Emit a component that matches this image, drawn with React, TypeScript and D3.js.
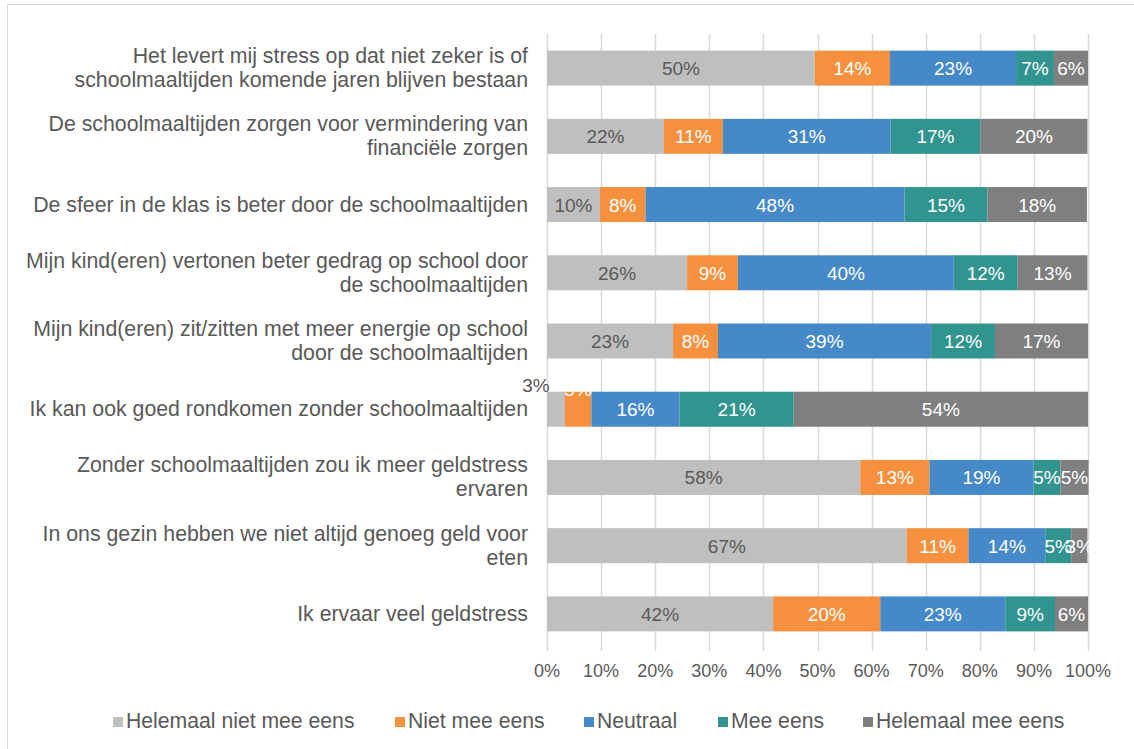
import React from "react";
import * as d3 from "d3";

const categories: string[][] = [
  ["Het levert mij stress op dat niet zeker is of", "schoolmaaltijden komende jaren blijven bestaan"],
  ["De schoolmaaltijden zorgen voor vermindering van", "financiële zorgen"],
  ["De sfeer in de klas is beter door de schoolmaaltijden"],
  ["Mijn kind(eren) vertonen beter gedrag op school door", "de schoolmaaltijden"],
  ["Mijn kind(eren) zit/zitten met meer energie op school", "door de schoolmaaltijden"],
  ["Ik kan ook goed rondkomen zonder schoolmaaltijden"],
  ["Zonder schoolmaaltijden zou ik meer geldstress", "ervaren"],
  ["In ons gezin hebben we niet altijd genoeg geld voor", "eten"],
  ["Ik ervaar veel geldstress"],
];

const seriesNames = ["Helemaal niet mee eens", "Niet mee eens", "Neutraal", "Mee eens", "Helemaal mee eens"];
const seriesColors = ["#BFBFBF", "#F5913E", "#4589C8", "#31948F", "#7F7F7F"];
const labelColors = ["#595959", "#FFFFFF", "#FFFFFF", "#FFFFFF", "#FFFFFF"];

const helemaalNiet = [49.5, 21.6, 9.8, 25.9, 23.3, 3.3, 57.9, 66.5, 41.8];
const nietMee = [13.9, 10.9, 8.4, 9.4, 8.3, 4.9, 12.8, 11.4, 19.8];
const neutraal = [23.3, 31.0, 47.9, 39.9, 39.4, 16.3, 19.2, 14.2, 23.1];
const meeEens = [7.0, 16.6, 15.3, 11.8, 11.8, 21.1, 5.0, 4.8, 9.2];
const helemaalMee = [6.3, 19.8, 18.4, 12.9, 17.2, 54.4, 5.2, 3.0, 6.1];

const xTicks = [0, 10, 20, 30, 40, 50, 60, 70, 80, 90, 100];

const W = 1134;
const H = 749;
const FONT = "'Liberation Sans', Arial, sans-serif";
const TEXT = "#595959";

export default function App() {
  const series = [helemaalNiet, nietMee, neutraal, meeEens, helemaalMee];
  const x = d3.scaleLinear().domain([0, 100]).range([547, 1088]);
  const y = d3
    .scaleBand<number>()
    .domain(categories.map((_, i) => i))
    .range([34, 648])
    .paddingInner(0.487)
    .paddingOuter(0.2435);
  const bw = y.bandwidth();

  const rows = categories.map((_, i) => {
    let acc = 0;
    return series.map((s, k) => {
      const v = s[i];
      const seg = { k, v, x0: acc, x1: acc + v };
      acc += v;
      return seg;
    });
  });

  const legendX = [113, 395, 584, 718, 863];

  return (
    <svg width={W} height={H} style={{ position: "absolute", left: 0, top: 0, background: "#fff" }} fontFamily={FONT}>
      <rect x={7.5} y={4.5} width={W + 10} height={H + 10} fill="#fff" stroke="#D9D9D9" strokeWidth={1} />
      {xTicks.map((t) => (
        <g key={t}>
          <line x1={Math.round(x(t)) + 0.5} x2={Math.round(x(t)) + 0.5} y1={34} y2={651} stroke="#D9D9D9" strokeWidth={1.5} />
          <text x={x(t)} y={677} textAnchor="middle" fontSize={18} fill={TEXT}>
            {t}%
          </text>
        </g>
      ))}
      {rows.map((segs, i) => {
        const y0 = y(i)!;
        const cy = y0 + bw / 2;
        const lines = categories[i];
        let liftedPrev = false;
        return (
          <g key={i}>
            {lines.map((ln, j) => (
              <text
                key={j}
                x={528}
                y={cy + 7 + (j - (lines.length - 1) / 2) * 24}
                textAnchor="end"
                fontSize={21.3}
                fill={TEXT}
              >
                {ln}
              </text>
            ))}
            {segs.map((s) => (
              <rect key={s.k} x={x(s.x0)} y={y0} width={x(s.x1) - x(s.x0)} height={bw} fill={seriesColors[s.k]} />
            ))}
            {segs.map((s) => {
              const w = x(s.x1) - x(s.x0);
              const label = `${Math.round(s.v)}%`;
              if (s.k === 0 && w < 20) {
                liftedPrev = true;
                return (
                  <text key={s.k} x={x(s.x0) - 11} y={y0} textAnchor="middle" fontSize={19} fill={TEXT}>
                    {label}
                  </text>
                );
              }
              if (liftedPrev && w < 30) {
                liftedPrev = false;
                return (
                  <text key={s.k} x={(x(s.x0) + x(s.x1)) / 2} y={y0 + 4} textAnchor="middle" fontSize={19} fill={labelColors[s.k]}>
                    {label}
                  </text>
                );
              }
              liftedPrev = false;
              return (
                <text key={s.k} x={(x(s.x0) + x(s.x1)) / 2} y={cy + 7} textAnchor="middle" fontSize={19} fill={labelColors[s.k]}>
                  {label}
                </text>
              );
            })}
          </g>
        );
      })}
      {seriesNames.map((n, k) => (
        <g key={n}>
          <rect x={legendX[k]} y={717} width={10} height={10} fill={seriesColors[k]} />
          <text x={legendX[k] + 13} y={728} fontSize={21.2} fill={TEXT}>
            {n}
          </text>
        </g>
      ))}
    </svg>
  );
}
